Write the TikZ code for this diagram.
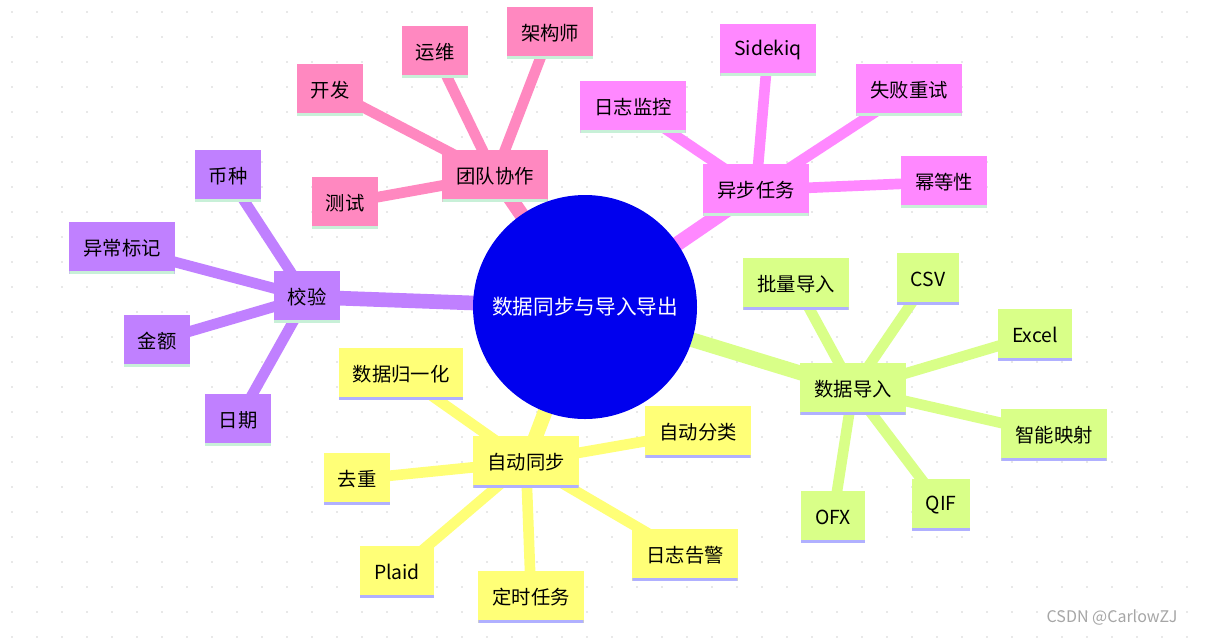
\documentclass[tikz,border=0pt]{standalone}
\usepackage{fontspec}
\setmainfont{Noto Sans CJK SC}
\begin{document}
\begin{tikzpicture}[x=0.75pt,y=-0.75pt,
  box/.style={fill=#1, minimum height=39, inner xsep=10.5pt, font=\fontsize{14.5}{16}\selectfont},
  br/.style={line width=11pt, draw=#1},
  lf/.style={line width=8pt, draw=#1}]
\useasboundingbox (0,0) rectangle (1209,637);
\fill[white] (0,0) rectangle (1209,637);
\foreach \i in {0,...,48}{\foreach \j in {0,...,25}{\fill[gray!35] (\i*25+12,\j*25+12) circle (0.9);}}
\definecolor{cpink}{HTML}{FF88C0}
\definecolor{cmag}{HTML}{FF88FF}
\definecolor{cgreen}{HTML}{D9FF88}
\definecolor{cyel}{HTML}{FFFF77}
\definecolor{cpur}{HTML}{C080FF}
\definecolor{ulgreen}{HTML}{C8F0D8}
\definecolor{ulblue}{HTML}{B0B0FF}
\coordinate (c) at (585,307);
\coordinate (t) at (495,176); \coordinate (a) at (756,190); \coordinate (i) at (853,389);
\coordinate (s) at (526,462); \coordinate (v) at (307,297);
\draw[lf=cpink] (t)--(330,90) (t)--(435,52) (t)--(550,33) (t)--(345,203);
\draw[lf=cmag] (a)--(633,107) (a)--(768,50) (a)--(909,90) (a)--(944,182);
\draw[lf=cgreen] (i)--(796,284) (i)--(928,279) (i)--(1035,335) (i)--(1054,435) (i)--(941,505) (i)--(833,517);
\draw[lf=cyel] (s)--(401,374) (s)--(357,479) (s)--(397,572) (s)--(531,597) (s)--(685,555) (s)--(698,432);
\draw[lf=cpur] (v)--(228,176) (v)--(122,248) (v)--(157,341) (v)--(238,420);
\draw[br=cpink] (c)--(t); \draw[br=cmag] (c)--(a); \draw[br=cgreen] (c)--(i);
\draw[br=cyel] (c)--(s); \draw[br=cpur] (c)--(v);
\newcommand\mn[5]{\node[box=#2, draw=none, path picture={\fill[#3] ([yshift=2.2pt]path picture bounding box.south west) rectangle (path picture bounding box.south east);}] (#4) at #1 {#5};}
\mn{(495,176)}{cpink}{ulgreen}{nt}{团队协作}
\mn{(330,90)}{cpink}{ulgreen}{n1}{开发}
\mn{(435,52)}{cpink}{ulgreen}{n2}{运维}
\mn{(550,33)}{cpink}{ulgreen}{n3}{架构师}
\mn{(345,203)}{cpink}{ulgreen}{n4}{测试}
\mn{(756,190)}{cmag}{ulgreen}{na}{异步任务}
\mn{(633,107)}{cmag}{ulgreen}{n5}{日志监控}
\mn{(768,50)}{cmag}{ulgreen}{n6}{Sidekiq}
\mn{(909,90)}{cmag}{ulgreen}{n7}{失败重试}
\mn{(944,182)}{cmag}{ulgreen}{n8}{幂等性}
\mn{(853,389)}{cgreen}{ulblue}{ni}{数据导入}
\mn{(796,284)}{cgreen}{ulblue}{n9}{批量导入}
\mn{(928,279)}{cgreen}{ulblue}{n10}{CSV}
\mn{(1035,335)}{cgreen}{ulblue}{n11}{Excel}
\mn{(1054,435)}{cgreen}{ulblue}{n12}{智能映射}
\mn{(941,505)}{cgreen}{ulblue}{n13}{QIF}
\mn{(833,517)}{cgreen}{ulblue}{n14}{OFX}
\mn{(526,462)}{cyel}{ulblue}{ns}{自动同步}
\mn{(401,374)}{cyel}{ulblue}{n15}{数据归一化}
\mn{(357,479)}{cyel}{ulblue}{n16}{去重}
\mn{(397,572)}{cyel}{ulblue}{n17}{Plaid}
\mn{(531,597)}{cyel}{ulblue}{n18}{定时任务}
\mn{(685,555)}{cyel}{ulblue}{n19}{日志告警}
\mn{(698,432)}{cyel}{ulblue}{n20}{自动分类}
\mn{(307,297)}{cpur}{ulgreen}{nv}{校验}
\mn{(228,176)}{cpur}{ulgreen}{n21}{币种}
\mn{(122,248)}{cpur}{ulgreen}{n22}{异常标记}
\mn{(157,341)}{cpur}{ulgreen}{n23}{金额}
\mn{(238,420)}{cpur}{ulgreen}{n24}{日期}
\node[circle, fill={rgb,255:red,0;green,0;blue,238}, minimum size=168pt, text=white, font=\fontsize{15.5}{17}\selectfont] (center) at (c) {数据同步与导入导出};
\node[text=gray!70, font=\fontsize{12}{14}\selectfont] (wm) at (1112,617) {CSDN @CarlowZJ};
\end{tikzpicture}
\end{document}
